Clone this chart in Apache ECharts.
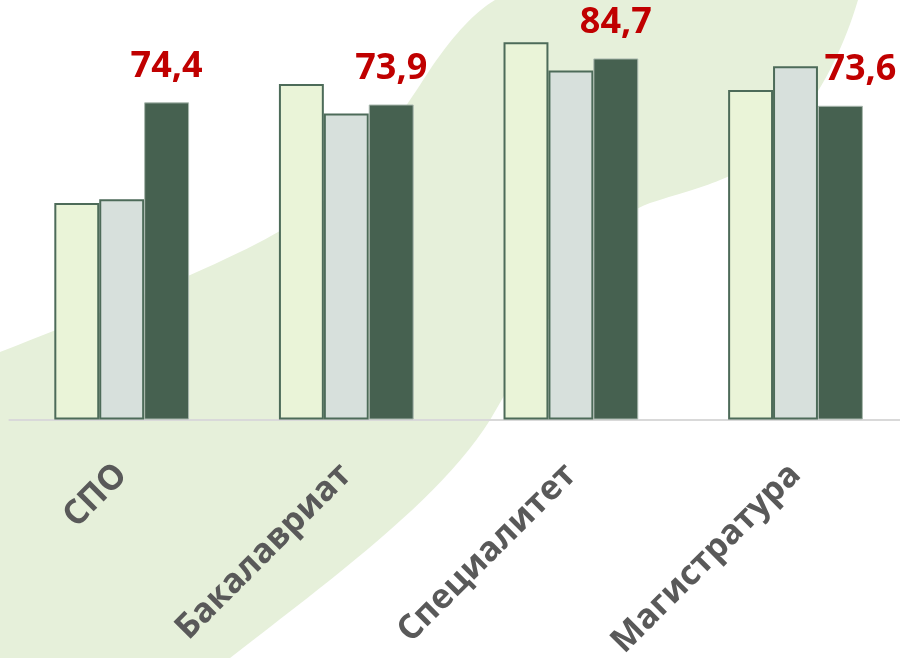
<!DOCTYPE html>
<html>
<head>
<meta charset="utf-8">
<script src="https://cdn.jsdelivr.net/npm/echarts@6/dist/echarts.min.js"></script>
<style>
html,body{margin:0;padding:0;background:#fff;}
#c{width:900px;height:658px;}
</style>
</head>
<body>
<div id="c"></div>
<script>
const categories = ['СПО', 'Бакалавриат', 'Специалитет', 'Магистратура'];
const series1 = [50.8, 78.7, 88.5, 77.3];
const series2 = [51.7, 71.8, 81.9, 82.9];
const series3 = [74.4, 73.9, 84.7, 73.6];
const seriesNames = ['Ряд 1', 'Ряд 2', 'Ряд 3'];

const chart = echarts.init(document.getElementById('c'), null, {renderer: 'canvas'});

const FONT = '"Open Sans", "DejaVu Sans", sans-serif';
const gridTop = 10.3, gridH = 409.2, gridLeft = 9.4, gridW = 898.4;

// decorative background swoosh built from cubic segments
function bez(p0, p1, p2, p3, n) {
  const out = [];
  for (let i = 1; i <= n; i++) {
    const t = i / n, u = 1 - t;
    out.push([
      u*u*u*p0[0] + 3*u*u*t*p1[0] + 3*u*t*t*p2[0] + t*t*t*p3[0],
      u*u*u*p0[1] + 3*u*u*t*p1[1] + 3*u*t*t*p2[1] + t*t*t*p3[1]
    ]);
  }
  return out;
}
const bgPts = [[0, 352]];
function C(c1, c2, e) { const s = bgPts[bgPts.length - 1]; bgPts.push(...bez(s, c1, c2, e, 24)); }
function L(e) { bgPts.push(e); }
C([120, 305], [230, 262], [290, 225]);
C([350, 188], [390, 130], [420, 85]);
C([445, 45], [470, 15], [495, 0]);
L([858, 0]);
C([840, 60], [805, 130], [745, 168]);
C([715, 185], [690, 190], [650, 203]);
C([600, 220], [560, 300], [490, 420]);
C([440, 500], [330, 580], [230, 658]);
L([0, 658]);

const s3data = series3.map((v, i) => {
  const item = {value: v};
  if (i === 3) item.label = {offset: [20, 0]};
  return item;
});

chart.setOption({
  backgroundColor: '#ffffff',
  animation: false,
  graphic: [{
    type: 'polygon',
    z: -10,
    silent: true,
    shape: {points: bgPts},
    style: {fill: '#E6F0DA'}
  }],
  grid: {left: gridLeft, top: gridTop, width: gridW, height: gridH, containLabel: false, outerBoundsMode: 'none'},
  xAxis: {
    type: 'category', data: categories,
    axisLine: {show: true, lineStyle: {color: '#D9D9D9', width: 2}},
    axisTick: {show: false},
    axisLabel: {
      show: true, rotate: 45, interval: 0, margin: 50,
      color: '#595959', fontSize: 34, fontWeight: 'bold', fontFamily: FONT
    }
  },
  yAxis: {type: 'value', min: 0, max: 96, show: false},
  series: [
    {
      name: seriesNames[0], type: 'bar',
      data: series1, barGap: '0%', barCategoryGap: '40%',
      itemStyle: {color: '#EAF4D8', borderColor: '#4D6B59', borderWidth: 2}
    },
    {
      name: seriesNames[1], type: 'bar',
      data: series2, barGap: '0%', barCategoryGap: '40%',
      itemStyle: {color: '#D7E0DC', borderColor: '#4D6B59', borderWidth: 2}
    },
    {
      name: seriesNames[2], type: 'bar',
      data: s3data, barGap: '0%', barCategoryGap: '40%',
      itemStyle: {color: '#466150', borderColor: '#A9B8AE', borderWidth: 1},
      label: {
        show: true, position: 'top', distance: 18,
        color: '#C00000', fontSize: 36, fontWeight: 'bold', fontFamily: FONT,
        formatter: p => String(p.value).replace('.', ',')
      }
    }
  ]
});
</script>
</body>
</html>
